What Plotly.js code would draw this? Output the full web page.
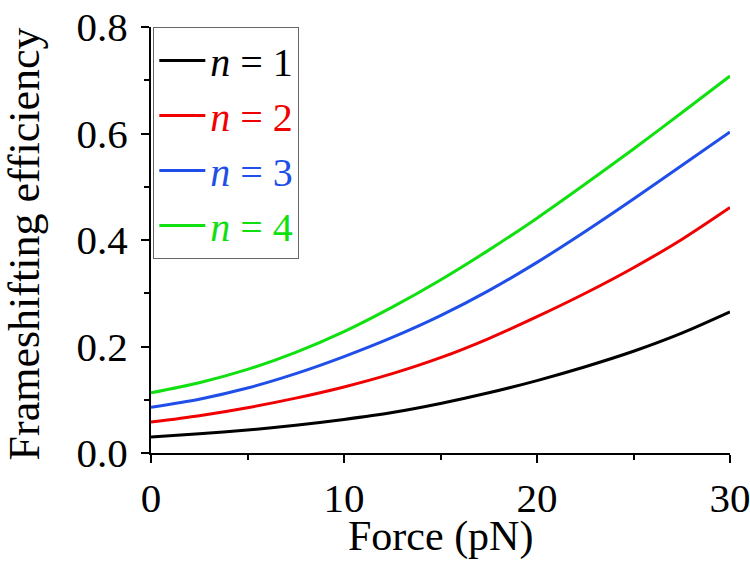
<!DOCTYPE html>
<html>
<head>
<meta charset="utf-8">
<script src="https://cdn.plot.ly/plotly-3.0.1.min.js"></script>
<style>
  body { margin: 0; background: #fff; }
  #myDiv { width: 750px; height: 577px; }
</style>
</head>
<body>
<div id="myDiv"></div>
<script>
// force in pN, efficiency
var force = [0, 2.5, 5, 7.5, 10, 12.5, 15, 17.5, 20, 22.5, 25, 27.5, 30];

var eff1 = [0.030, 0.036, 0.043, 0.052, 0.063, 0.076, 0.093, 0.113, 0.136, 0.162, 0.191, 0.225, 0.265];
var eff2 = [0.058, 0.070, 0.085, 0.103, 0.124, 0.149, 0.179, 0.215, 0.256, 0.300, 0.348, 0.401, 0.461];
var eff3 = [0.086, 0.101, 0.122, 0.149, 0.181, 0.217, 0.258, 0.305, 0.358, 0.416, 0.477, 0.540, 0.603];
var eff4 = [0.113, 0.132, 0.157, 0.189, 0.228, 0.274, 0.325, 0.381, 0.441, 0.505, 0.571, 0.639, 0.708];

var names = ['1', '2', '3', '4'];
var colors = ['#000000', '#f00000', '#1f4fe8', '#10e010'];
var series = [eff1, eff2, eff3, eff4];

var data = [];
for (var i = 0; i < series.length; i++) {
  data.push({
    type: 'scatter',
    mode: 'lines',
    x: force,
    y: series[i],
    name: '<span style="color:' + colors[i] + '"><i>n</i> = ' + names[i] + '</span>',
    line: { color: colors[i], width: 3, shape: 'spline', smoothing: 0.8 }
  });
}

var serif = 'Liberation Serif';
var tickFont = { family: serif, size: 41, color: '#000' };

var layout = {
  width: 750,
  height: 577,
  margin: { l: 151, r: 20, t: 27, b: 124 },
  paper_bgcolor: '#fff',
  plot_bgcolor: '#fff',
  font: { family: serif, size: 40, color: '#000' },
  showlegend: true,
  legend: {
    x: 0.004, y: 1, xanchor: 'left', yanchor: 'top',
    bordercolor: '#666', borderwidth: 1,
    bgcolor: 'rgba(255,255,255,0)',
    itemwidth: 46,
    font: { family: serif, size: 40 }
  },
  xaxis: {
    range: [0, 30],
    tickvals: [0, 10, 20, 30],
    showgrid: false, zeroline: false,
    showline: true, linecolor: '#000', linewidth: 2,
    ticks: 'outside', ticklen: 8, tickwidth: 2, tickcolor: '#000',
    minor: { tickvals: [5, 15, 25], ticks: 'outside', ticklen: 5, tickwidth: 2, tickcolor: '#000', showgrid: false },
    tickfont: tickFont,
    ticklabeloverflow: 'allow'
  },
  yaxis: {
    range: [0, 0.8],
    tickvals: [0, 0.2, 0.4, 0.6, 0.8],
    tickformat: '.1f',
    showgrid: false, zeroline: false,
    showline: true, linecolor: '#000', linewidth: 2,
    ticks: 'outside', ticklen: 8, tickwidth: 2, tickcolor: '#000',
    minor: { tickvals: [0.1, 0.3, 0.5, 0.7], ticks: 'outside', ticklen: 5, tickwidth: 2, tickcolor: '#000', showgrid: false },
    tickfont: tickFont,
    ticklabeloverflow: 'allow',
    ticklabelstandoff: 5
  },
  annotations: [
    {
      text: 'Force (pN)', xref: 'paper', yref: 'paper',
      x: 0.5, y: -0.195, xanchor: 'center', yanchor: 'middle',
      showarrow: false, font: { family: serif, size: 42, color: '#000' }
    },
    {
      text: 'Frameshifting efficiency', xref: 'paper', yref: 'paper',
      x: -0.219, y: 0.49, xanchor: 'center', yanchor: 'middle', textangle: -90,
      showarrow: false, font: { family: serif, size: 44, color: '#000' }
    }
  ]
};

Plotly.newPlot('myDiv', data, layout, { displayModeBar: false });
</script>
</body>
</html>
